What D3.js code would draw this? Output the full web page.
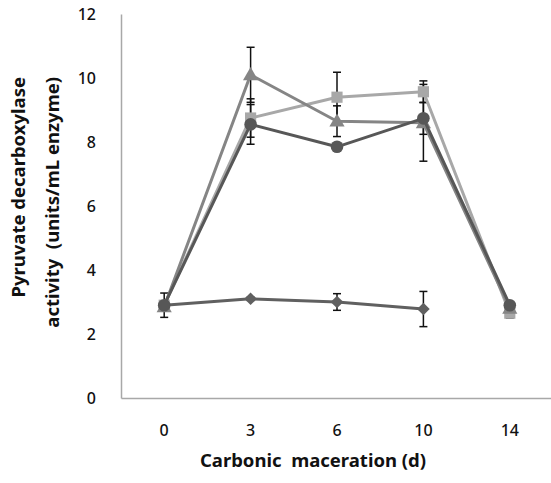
<!DOCTYPE html>
<html>
<head>
<meta charset="utf-8">
<script src="https://cdn.jsdelivr.net/npm/d3@7"></script>
<style>
  body { margin: 0; background: #fff; }
  text { font-family: "Noto Sans", "Open Sans", sans-serif; fill: #111; }
</style>
</head>
<body>
<div id="chart"></div>
<script>
// days of carbonic maceration
var days = ["0", "3", "6", "10", "14"];
var yTicks = [0, 2, 4, 6, 8, 10, 12];

// series values (null = no point)
var diamondVals = [2.9, 3.1, 3.0, 2.78, null];
var diamondErr  = [0.38, 0.05, 0.26, 0.55, null];
var squareVals  = [2.9, 8.75, 9.4, 9.57, 2.65];
var squareErr   = [0.1, 0.6, 0.78, 0.34, 0.15];
var triVals     = [2.85, 10.1, 8.65, 8.6, 2.8];
var triErr      = [0.1, 0.86, 0.48, 1.2, 0.1];
var circleVals  = [2.9, 8.55, 7.85, 8.74, 2.9];
var circleErr   = [0.1, 0.62, 0.08, 0.5, 0.1];

var series = [
  {vals: diamondVals, err: diamondErr, color: "#606060", sym: "diamond"},
  {vals: squareVals, err: squareErr, color: "#a8a8a8", sym: "square"},
  {vals: triVals, err: triErr, color: "#858585", sym: "triangle"},
  {vals: circleVals, err: circleErr, color: "#575757", sym: "circle"}
];

var W = 551, H = 483;
var mLeft = 121, mTop = 14, mRight = 553, mBottom = 398;

var svg = d3.select("#chart").append("svg").attr("width", W).attr("height", H);

var x = d3.scaleBand().domain(days).range([mLeft, mRight]);
var y = d3.scaleLinear().domain([0, 12]).range([mBottom, mTop]);
var cx = function(d){ return x(d) + x.bandwidth()/2; };

// axes
var yAxis = svg.append("g").attr("transform", "translate(" + mLeft + ",0)")
  .call(d3.axisLeft(y).tickValues(yTicks).tickSize(0).tickPadding(25).tickFormat(d3.format("d")));
var xAxis = svg.append("g").attr("transform", "translate(0," + mBottom + ")")
  .call(d3.axisBottom(x).tickSize(0).tickPadding(27));
[yAxis, xAxis].forEach(function(a){
  a.select(".domain").attr("stroke", "#a8a8a8").attr("stroke-width", 1.5);
  a.selectAll("text").style("font-size", "16px").style("font-weight", "500").attr("fill", "#111");
});

// axis titles
svg.append("text")
  .attr("x", 313).attr("y", 467)
  .attr("text-anchor", "middle")
  .style("font-size", "18.5px").style("font-weight", "bold")
  .style("white-space", "pre")
  .text("Carbonic  maceration (d)");

svg.append("text")
  .attr("transform", "translate(25,77) rotate(-90)")
  .attr("text-anchor", "end")
  .style("font-size", "18.5px").style("font-weight", "bold")
  .text("Pyruvate decarboxylase");
svg.append("text")
  .attr("transform", "translate(59,77) rotate(-90)")
  .attr("text-anchor", "end")
  .style("font-size", "18.5px").style("font-weight", "bold")
  .style("white-space", "pre")
  .text("activity  (units/mL enzyme)");

// error bars
var eb = svg.append("g");
series.forEach(function(s){
  days.forEach(function(d, i){
    if (s.vals[i] == null) return;
    var hi = y(s.vals[i] + s.err[i]), lo = y(s.vals[i] - s.err[i]), px = cx(d);
    eb.append("line").attr("x1", px).attr("x2", px).attr("y1", hi).attr("y2", lo)
      .attr("stroke", "#111").attr("stroke-width", 1.5);
    [hi, lo].forEach(function(v){
      eb.append("line").attr("x1", px - 4).attr("x2", px + 4).attr("y1", v).attr("y2", v)
        .attr("stroke", "#111").attr("stroke-width", 1.5);
    });
  });
});

// lines and markers
var line = d3.line()
  .defined(function(d){ return d.v != null; })
  .x(function(d){ return cx(d.day); })
  .y(function(d){ return y(d.v); });

var symbols = {
  diamond: d3.symbol().type(d3.symbolSquare).size(80),
  square: d3.symbol().type(d3.symbolSquare).size(125),
  triangle: d3.symbol().type(d3.symbolTriangle).size(100),
  circle: d3.symbol().type(d3.symbolCircle).size(125)
};

series.forEach(function(s){
  var pts = days.map(function(d, i){ return {day: d, v: s.vals[i]}; });
  var g = svg.append("g");
  g.append("path").datum(pts).attr("d", line)
    .attr("fill", "none").attr("stroke", s.color).attr("stroke-width", 3)
    .attr("stroke-linejoin", "round");
  g.selectAll("path.mk").data(pts.filter(function(p){ return p.v != null; }))
    .enter().append("path").attr("class", "mk")
    .attr("d", symbols[s.sym])
    .attr("transform", function(p){
      var t = "translate(" + cx(p.day) + "," + y(p.v) + ")";
      if (s.sym == "diamond") t += " rotate(45)";
      if (s.sym == "triangle") t = "translate(" + cx(p.day) + "," + (y(p.v) + 1) + ")";
      return t;
    })
    .attr("fill", s.color);
});
</script>
</body>
</html>
